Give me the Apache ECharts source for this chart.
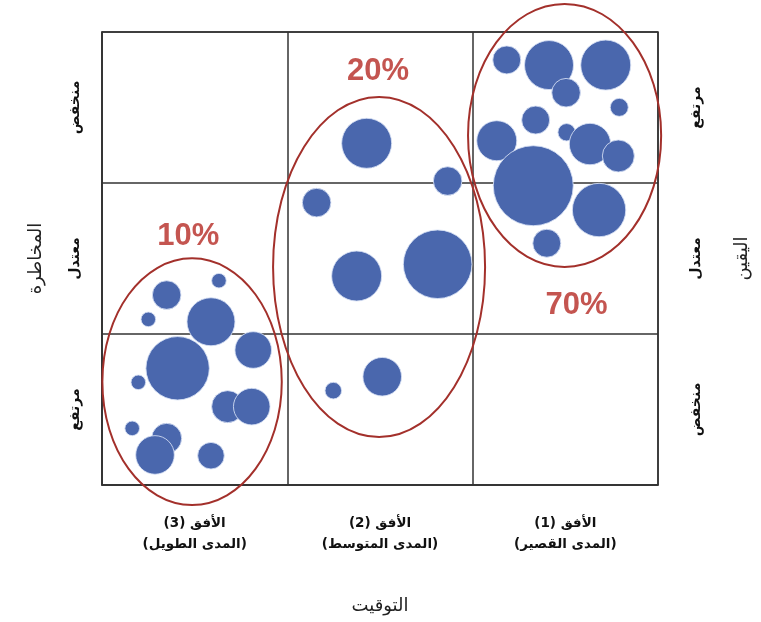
<!DOCTYPE html>
<html>
<head>
<meta charset="utf-8">
<script src="https://cdn.jsdelivr.net/npm/echarts@6/dist/echarts.min.js"></script>
<style>
html,body{margin:0;padding:0;background:#fff;}
#chart{width:761px;height:622px;}
</style>
</head>
<body>
<div id="chart"></div>
<script>
// ---- Data ----
// Column categories (left to right) along the time axis
const timeCategories = ['الأفق (3)\n(المدى الطويل)', 'الأفق (2)\n(المدى المتوسط)', 'الأفق (1)\n(المدى القصير)'];
// Risk (left) categories, bottom to top
const riskCategories = ['مرتفع', 'معتدل', 'منخفض'];
// Certainty (right) categories, bottom to top
const certaintyCategories = ['منخفض', 'معتدل', 'مرتفع'];
const timeAxisName = 'التوقيت';
const riskAxisName = 'المخاطرة';
const certaintyAxisName = 'اليقين';

// Bubbles: [x, y, radius] in data units on a 0..3 by 0..3 grid (radius = bubble size value)
const shortTermBubbles = [
  [2.184, 2.815, 14], [2.412, 2.781, 24.5], [2.718, 2.781, 25], [2.504, 2.598, 14.3],
  [2.791, 2.501, 9], [2.340, 2.417, 14], [2.130, 2.280, 20], [2.507, 2.336, 8.7],
  [2.633, 2.258, 20.7], [2.786, 2.179, 16], [2.327, 1.982, 40], [2.682, 1.821, 26.7],
  [2.400, 1.601, 14]
];
const midTermBubbles = [
  [1.428, 2.263, 25], [1.865, 2.013, 14.3], [1.158, 1.870, 14.3], [1.374, 1.384, 25],
  [1.811, 1.462, 34.3], [1.512, 0.717, 19.3], [1.248, 0.625, 8.3]
];
const longTermBubbles = [
  [0.349, 1.258, 14.3], [0.631, 1.353, 7.3], [0.250, 1.097, 7.3], [0.588, 1.081, 24],
  [0.408, 0.773, 31.7], [0.816, 0.894, 18.3], [0.196, 0.680, 7.3], [0.678, 0.519, 16],
  [0.808, 0.519, 18.3], [0.163, 0.375, 7.3], [0.349, 0.309, 15], [0.286, 0.199, 19.3],
  [0.588, 0.194, 13.3]
];

// Cluster ellipses: [centerX, centerY, radiusX, radiusY] in data units
const clusterEllipses = [
  [0.486, 0.684, 0.484, 0.817],
  [1.495, 1.444, 0.572, 1.126],
  [2.496, 2.315, 0.521, 0.871]
];

// Percentage labels and their anchor points (data units)
const shareLabels = ['10%', '20%', '70%'];
const shareAnchors = [[0.466, 1.644], [1.489, 2.737], [2.561, 1.192]];

// ---- Chart ----
const chart = echarts.init(document.getElementById('chart'), null, {renderer: 'canvas'});
const lineColor = '#333333';
const arabicFont = 'DejaVu Sans';

const bubbleData = [].concat(longTermBubbles, midTermBubbles, shortTermBubbles);

const option = {
  backgroundColor: '#ffffff',
  animation: false,
  grid: {
    left: 102, right: 103, top: 32, bottom: 137,
    show: true, borderColor: lineColor, borderWidth: 1.5, backgroundColor: 'transparent'
  },
  xAxis: [
    {
      type: 'value', min: 0, max: 3, interval: 1, position: 'bottom',
      axisLine: {show: true, lineStyle: {color: lineColor, width: 1.5}},
      axisTick: {show: false}, axisLabel: {show: false},
      splitLine: {show: true, lineStyle: {color: lineColor, width: 1.5}}
    },
    {
      type: 'category', data: timeCategories, position: 'bottom',
      axisLine: {show: false}, axisTick: {show: false}, splitLine: {show: false},
      axisLabel: {
        margin: 28, fontFamily: arabicFont, fontWeight: 'bold', fontSize: 13.5,
        lineHeight: 21, color: '#111', interval: 0
      },
      name: timeAxisName, nameLocation: 'middle', nameGap: 112,
      nameTextStyle: {fontFamily: arabicFont, fontSize: 18, color: '#222'}
    }
  ],
  yAxis: [
    {
      type: 'value', min: 0, max: 3, interval: 1, position: 'left',
      axisLine: {show: true, lineStyle: {color: lineColor, width: 1.5}},
      axisTick: {show: false}, axisLabel: {show: false},
      splitLine: {show: true, lineStyle: {color: lineColor, width: 1.5}}
    },
    {
      type: 'category', data: riskCategories, position: 'left',
      axisLine: {show: false}, axisTick: {show: false}, splitLine: {show: false},
      axisLabel: {
        rotate: 90, margin: 20, fontFamily: arabicFont, fontWeight: 'bold',
        fontSize: 14, color: '#111', interval: 0
      },
      name: riskAxisName, nameLocation: 'middle', nameRotate: 90, nameGap: 57,
      nameTextStyle: {fontFamily: arabicFont, fontSize: 18, color: '#222'}
    },
    {
      type: 'category', data: certaintyCategories, position: 'right',
      axisLine: {show: false}, axisTick: {show: false}, splitLine: {show: false},
      axisLabel: {
        rotate: 90, margin: 31, fontFamily: arabicFont, fontWeight: 'bold',
        fontSize: 14, color: '#111', interval: 0
      },
      name: certaintyAxisName, nameLocation: 'middle', nameRotate: 90, nameGap: 75,
      nameTextStyle: {fontFamily: arabicFont, fontSize: 18, color: '#222'}
    }
  ],
  series: [
    {
      type: 'scatter', xAxisIndex: 0, yAxisIndex: 0,
      data: bubbleData,
      symbol: 'circle',
      symbolSize: function (d) { return d[2] * 2; },
      itemStyle: {color: '#4a67ad', opacity: 1, borderColor: 'rgba(215,225,245,0.85)', borderWidth: 1},
      z: 3
    },
    {
      type: 'custom', xAxisIndex: 0, yAxisIndex: 0, clip: false,
      data: clusterEllipses,
      renderItem: function (params, api) {
        const c = api.coord([api.value(0), api.value(1)]);
        const s = api.size([api.value(2), api.value(3)]);
        return {
          type: 'ellipse',
          shape: {cx: c[0], cy: c[1], rx: s[0], ry: s[1]},
          style: {fill: 'none', stroke: '#a3302b', lineWidth: 2}
        };
      },
      z: 4, silent: true
    },
    {
      type: 'scatter', xAxisIndex: 0, yAxisIndex: 0,
      data: shareAnchors.map(function (p, i) { return {value: p, name: shareLabels[i]}; }),
      symbolSize: 1,
      itemStyle: {color: 'rgba(0,0,0,0)'},
      label: {
        show: true, position: 'inside', formatter: '{b}',
        fontFamily: 'Liberation Sans', fontWeight: 'bold', fontSize: 31, color: '#b52a24'
      },
      z: 5, silent: true
    }
  ]
};
chart.setOption(option);
</script>
</body>
</html>
